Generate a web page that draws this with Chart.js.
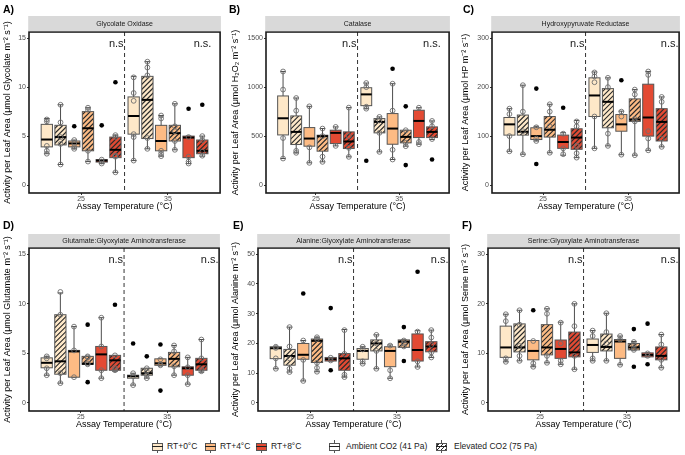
<!DOCTYPE html>
<html>
<head>
<meta charset="utf-8">
<script src="https://cdn.jsdelivr.net/npm/chart.js@4.4.1/dist/chart.umd.min.js"></script>
<style>
  body { margin: 0; width: 685px; height: 455px; background: #fff; position: relative; overflow: hidden;
         font-family: "Liberation Sans", Arial, sans-serif; }
  .panel { position: absolute; }
  .tag { position: absolute; font-weight: bold; font-size: 10.5px; color: #000; }
  .key { position: absolute; top: 440px; width: 11px; height: 13px; }
  .key .wh { position: absolute; left: 5px; top: 0; width: 1px; height: 13px; background: #555; }
  .key .bx { position: absolute; left: 0; top: 3px; width: 9px; height: 6px; border: 1px solid #555; }
  .key .md { position: absolute; left: 0; top: 6px; width: 11px; height: 1px; background: #222; }
  .lt { position: absolute; top: 440px; font-size: 8.5px; line-height: 13px; color: #1a1a1a; white-space: nowrap; }
</style>
</head>
<body>
<div id="legend"></div>
<script>
// groups (order of boxes inside each temperature)
const temps = ['25', '35'];
const rtLevels = ['RT+0°C', 'RT+4°C', 'RT+8°C'];
const co2Levels = ['Ambient CO2 (41 Pa)', 'Elevated CO2 (75 Pa)'];

// each box: [lower whisker, Q1, median, Q3, upper whisker]
// order: 25°C (RT0 amb, RT0 elev, RT4 amb, RT4 elev, RT8 amb, RT8 elev), then 35°C same order

// A) Glycolate Oxidase
const goBox = [[3.2, 3.9, 4.65, 6.2, 6.8], [2.1, 4.1, 4.9, 6.1, 8.2], [3.7, 3.9, 4.25, 4.5, 4.6],
  [2.4, 3.5, 5.8, 7.5, 7.9], [2.2, 2.35, 2.5, 2.6, 2.6], [1.3, 2.8, 3.6, 4.9, 5.1],
  [2.5, 5.2, 7.05, 9.0, 11.1], [3.7, 4.75, 8.7, 11.1, 12.6], [2.95, 3.5, 4.5, 6.1, 7.1],
  [3.6, 4.5, 5.3, 6.1, 8.3], [2.2, 2.8, 4.85, 5.0, 5.0], [2.95, 3.2, 3.5, 4.6, 5.0]];
const goPts = [[6.7, 6.5, 4.0, 3.5, 3.2], [8.2, 6.4, 4.9, 4.2, 2.1], [4.6, 4.3, 3.9, 3.7], [7.9, 7.7, 3.5, 2.4],
  [2.6, 2.4, 2.2], [5.1, 4.9, 3.0, 2.9, 1.3], [11.0, 9.4, 8.6, 5.2, 4.9, 2.5], [12.6, 12.0, 11.2, 4.8, 3.7],
  [7.1, 6.8, 3.5, 3.2, 2.95], [8.3, 6.0, 5.5, 4.5, 3.6], [4.9, 2.9, 2.4, 2.2], [5.0, 4.6, 3.4, 3.0]];
const goOut = [[], [], [6.0], [], [6.1], [10.5], [], [], [], [], [7.8], [8.2]];

// B) Catalase
const catBox = [[271, 512, 682, 910, 1160], [329, 414, 543, 706, 889], [227, 397, 475, 587, 804],
  [237, 346, 499, 509, 577], [400, 424, 533, 560, 594], [288, 373, 445, 543, 791],
  [780, 811, 926, 994, 1042], [339, 533, 645, 679, 696], [261, 417, 577, 730, 1035],
  [397, 431, 492, 560, 560], [417, 485, 655, 764, 790], [465, 485, 543, 594, 655]];
const catPts = [[1160, 975, 480, 271], [889, 760, 350, 329], [804, 385, 227], [577, 500, 290, 237],
  [594, 400], [791, 500, 380, 288], [1042, 1000, 800, 780], [696, 660, 533, 339],
  [1035, 760, 360, 261], [560, 431, 397], [790, 440, 417], [655, 600, 470]];
const catOut = [[], [], [], [], [], [], [248], [], [1188], [804, 204], [], [261]];

// C) Hydroxypyruvate Reductase
const hprBox = [[69, 102, 124, 138, 156], [63, 102, 109, 143, 204], [90, 93, 100, 117, 120],
  [66, 98, 113, 140, 165], [61, 75, 88, 102, 107], [56, 73, 97, 115, 132],
  [75, 140, 183, 219, 231], [80, 117, 170, 197, 219], [62, 110, 124, 144, 151],
  [61, 130, 134, 176, 195], [71, 100, 138, 206, 232], [78, 90, 129, 156, 180]];
const hprPts = [[156, 145, 100, 69], [204, 150, 110, 63], [118, 95, 90], [165, 150, 120, 66],
  [105, 75, 63], [130, 120, 80, 65, 56], [230, 222, 210, 140, 75], [219, 200, 105, 80],
  [150, 140, 62], [195, 185, 135, 130, 61], [232, 225, 110, 95, 71], [180, 170, 95, 78]];
const hprOut = [[], [], [197, 43], [], [158], [], [], [], [214], [], [], []];

// D) Glutamate:Glyoxylate Aminotransferase
const ggatBox = [[2.8, 3.55, 4.05, 4.55, 4.7], [2.0, 2.9, 4.2, 8.9, 11.1], [2.6, 2.6, 5.2, 5.3, 7.7],
  [3.9, 3.9, 3.95, 4.7, 4.7], [2.5, 3.3, 4.9, 5.7, 8.6], [3.2, 3.3, 4.3, 4.8, 4.8],
  [1.8, 2.5, 2.7, 2.8, 3.0], [2.5, 2.8, 3.0, 3.5, 3.5], [3.8, 3.8, 4.0, 4.45, 4.45],
  [2.8, 3.65, 4.45, 5.1, 5.8], [1.9, 2.8, 3.5, 3.65, 4.6], [3.1, 3.3, 3.9, 4.5, 6.4]];
const ggatPts = [[4.7, 4.5, 3.5, 2.8], [11.2, 8.9, 3.0, 2.0], [7.7, 5.3, 2.6], [4.7, 4.6, 4.0, 3.9],
  [8.6, 5.7, 3.3, 2.5], [4.8, 3.5, 3.3], [3.0, 2.7, 1.8], [3.5, 3.2, 2.8, 2.5], [4.4, 3.9, 3.8],
  [5.8, 5.2, 3.7, 2.8], [4.6, 3.6, 2.8, 1.9], [6.4, 4.5, 3.4, 3.2]];
const ggatOut = [[], [], [], [7.9, 2.1], [], [9.9], [6.0], [4.7], [5.9, 1.25], [], [], []];

// E) Alanine:Glyoxylate Aminotransferase
const agatBox = [[11.5, 14.9, 18.4, 18.9, 18.9], [10.4, 12.7, 15.8, 18.0, 25.5], [7.4, 14.7, 16.2, 20.0, 21.0],
  [10.5, 13.6, 20.9, 21.5, 22.1], [14.1, 14.1, 14.7, 15.3, 15.3], [8.7, 11.0, 15.0, 16.6, 24.7],
  [13.2, 14.7, 17.5, 18.3, 18.9], [11.5, 17.5, 20.0, 21.2, 22.9], [8.3, 12.2, 17.5, 18.9, 19.5],
  [18.7, 18.7, 20.6, 21.2, 21.2], [12.1, 14.1, 17.8, 23.2, 24.3], [15.3, 17.2, 19.0, 20.6, 24.5]];
const agatPts = [[18.9, 18.5, 15, 11.5], [25.5, 19, 15, 11.5, 10.4], [21, 14.5, 7.4], [22.1, 21.5, 13.5, 11.8, 10.5],
  [15.2, 14.3], [24.5, 16.5, 9.5, 8.7], [18.9, 18, 14, 13.2], [22.9, 20, 17.5, 11.5], [19.3, 11, 8.3],
  [21, 20, 19], [24, 14, 12.1], [24.5, 22, 19.5, 17, 15.3]];
const agatOut = [[], [], [36.8], [], [31.9, 11.0], [], [], [], [], [25.5, 14.1], [44.1], []];

// F) Serine:Glyoxylate Aminotransferase
const sgatBox = [[8.3, 9.2, 11.2, 15.5, 17.9], [8.5, 10.3, 11.2, 15.95, 18.7], [7.3, 8.7, 10.5, 12.6, 12.6],
  [8.1, 9.7, 11.2, 15.8, 19.0], [7.8, 9.0, 10.9, 12.7, 16.3], [6.8, 9.3, 10.2, 14.3, 20.0],
  [8.5, 10.2, 11.7, 12.9, 14.6], [8.5, 10.5, 11.3, 13.9, 18.1], [7.7, 9.0, 12.4, 12.8, 13.5],
  [10.7, 10.7, 11.2, 12.0, 12.4], [9.3, 9.3, 9.7, 10.1, 10.1], [7.1, 8.7, 9.5, 11.3, 13.8]];
const sgatPts = [[17.9, 16.5, 9.0, 8.3], [18.7, 15.8, 11.5, 9.5, 8.5], [12.5, 8.0, 7.3], [19.0, 18.0, 9.5, 8.1],
  [16.2, 12.0, 8.5, 7.8], [20.0, 15.5, 9.5, 6.8], [14.6, 13.5, 9.0, 8.5], [18.1, 14.3, 12.0, 8.5],
  [13.5, 12.8, 7.7], [12.3, 11.8, 11.0, 10.7], [10.0, 9.5], [13.8, 11.8, 8.7, 7.1]];
const sgatOut = [[], [], [18.7], [], [], [], [], [], [], [14.9, 7.3], [16.0, 7.8], []];

const rtFill = ['#fee8c8', '#fdbb84', '#e34a33'];
const SPACING = 0.158, BOX_W = 0.13;

function xPos(i) {
  return Math.floor(i / 6) + 1 + ((i % 6) - 2.5) * SPACING;
}

const rows = [
  { top: 0, plotTop: 32, stripH: 16, plotBottom: 193, tagTop: 3 },
  { top: 220, plotTop: 248, stripH: 14, plotBottom: 411, tagTop: 219 }
];

const panels = [
  { tag: 'A)', tagX: 3, title: 'Glycolate Oxidase', unit: 'Glycolate', box: goBox, pts: goPts, out: goOut,
    yTop: 15, step: 5, row: 0, left: 0, plotLeft: 29, right: 224, nsX: 2.5 },
  { tag: 'B)', tagX: 229, title: 'Catalase', unit: 'H\u2082O\u2082', box: catBox, pts: catPts, out: catOut,
    yTop: 1500, step: 500, row: 0, left: 228, plotLeft: 266, right: 453, nsX: 2.5 },
  { tag: 'C)', tagX: 463, title: 'Hydroxypyruvate Reductase', unit: 'HP', box: hprBox, pts: hprPts, out: hprOut,
    yTop: 300, step: 100, row: 0, left: 458, plotLeft: 492, right: 683, nsX: 2.6 },
  { tag: 'D)', tagX: 3, title: 'Glutamate:Glyoxylate Aminotransferase', unit: 'Glutamate', box: ggatBox, pts: ggatPts, out: ggatOut,
    yTop: 15, step: 5, row: 1, left: 0, plotLeft: 29, right: 223, nsX: 2.6 },
  { tag: 'E)', tagX: 233, title: 'Alanine:Glyoxylate Aminotransferase', unit: 'Alanine', box: agatBox, pts: agatPts, out: agatOut,
    yTop: 50, step: 10, row: 1, left: 228, plotLeft: 258, right: 453, nsX: 2.6 },
  { tag: 'F)', tagX: 462, title: 'Serine:Glyoxylate Aminotransferase', unit: 'Serine', box: sgatBox, pts: sgatPts, out: sgatOut,
    yTop: 30, step: 10, row: 1, left: 458, plotLeft: 488, right: 683, nsX: 2.6 }
];

// draws the boxes/whiskers under the points, and the frame, strip and n.s. labels on top
function boxPlugin(p) {
  return {
    id: 'boxes',
    beforeDatasetsDraw(chart) {
      const { ctx, chartArea: a, scales: { x, y } } = chart;
      ctx.save();
      // dashed divider between temperatures
      const xd = x.getPixelForValue(1.5);
      ctx.strokeStyle = '#333';
      ctx.lineWidth = 1;
      ctx.setLineDash([4, 3]);
      ctx.beginPath();
      ctx.moveTo(xd, a.top);
      ctx.lineTo(xd, a.bottom);
      ctx.stroke();
      ctx.setLineDash([]);

      p.box.forEach((b, i) => {
        const c = xPos(i);
        const cx = x.getPixelForValue(c);
        const hw = x.getPixelForValue(c + BOX_W / 2) - cx;
        const [lo, q1, med, q3, hi] = b.map(v => y.getPixelForValue(v));
        const j = i % 6;
        // whiskers + caps
        ctx.strokeStyle = '#4d4d4d';
        ctx.lineWidth = 1;
        ctx.beginPath();
        ctx.moveTo(cx, lo); ctx.lineTo(cx, hi);
        ctx.moveTo(cx - hw / 2, lo); ctx.lineTo(cx + hw / 2, lo);
        ctx.moveTo(cx - hw / 2, hi); ctx.lineTo(cx + hw / 2, hi);
        ctx.stroke();
        // box
        ctx.fillStyle = rtFill[Math.floor(j / 2)];
        ctx.fillRect(cx - hw, q3, hw * 2, q1 - q3);
        if (j % 2 === 1) {
          ctx.save();
          ctx.beginPath();
          ctx.rect(cx - hw, q3, hw * 2, q1 - q3);
          ctx.clip();
          ctx.strokeStyle = '#2b2b2b';
          ctx.lineWidth = 1.2;
          ctx.beginPath();
          const h = q1 - q3;
          for (let sx = cx - hw - h - 2; sx < cx + hw + 2; sx += 5) {
            ctx.moveTo(sx, q1);
            ctx.lineTo(sx + h, q3);
          }
          ctx.stroke();
          ctx.restore();
        }
        ctx.strokeStyle = '#555';
        ctx.lineWidth = 1;
        ctx.strokeRect(cx - hw, q3, hw * 2, q1 - q3);
        // median
        ctx.strokeStyle = '#000';
        ctx.lineWidth = 2;
        ctx.beginPath();
        ctx.moveTo(cx - hw, med); ctx.lineTo(cx + hw, med);
        ctx.stroke();
      });
      ctx.restore();
    },
    afterDraw(chart) {
      const { ctx, chartArea: a, scales: { x, y } } = chart;
      const r = rows[p.row];
      ctx.save();
      // panel frame
      ctx.strokeStyle = '#1a1a1a';
      ctx.lineWidth = 1.6;
      ctx.strokeRect(a.left, a.top, a.right - a.left, a.bottom - a.top);
      // facet strip
      ctx.fillStyle = '#d9d9d9';
      ctx.fillRect(a.left - 0.8, a.top - r.stripH, a.right - a.left + 1.6, r.stripH - 0.8);
      ctx.fillStyle = '#1a1a1a';
      ctx.font = '7px "Liberation Sans", Arial, sans-serif';
      ctx.textAlign = 'center';
      ctx.textBaseline = 'middle';
      ctx.fillText(p.title, (a.left + a.right) / 2, a.top - r.stripH / 2);
      // n.s. labels
      ctx.font = '11px "Liberation Sans", Arial, sans-serif';
      ctx.textAlign = 'right';
      const ny = y.getPixelForValue(p.yTop * 0.96);
      ctx.fillText('n.s', x.getPixelForValue(1.5) - 1, ny);
      ctx.fillText('n.s.', Math.min(x.getPixelForValue(p.nsX), a.right - 0.5), ny);
      ctx.restore();
    }
  };
}

function flatten(arr) {
  const out = [];
  arr.forEach((vals, i) => vals.forEach(v => out.push({ x: xPos(i), y: v })));
  return out;
}

panels.forEach(p => {
  const r = rows[p.row];
  const xAxisH = 20;
  const div = document.createElement('div');
  div.className = 'panel';
  div.style.left = p.left + 'px';
  div.style.top = r.top + 'px';
  div.style.width = (p.right + 1 - p.left) + 'px';
  div.style.height = (r.plotBottom + xAxisH - r.top) + 'px';
  const canvas = document.createElement('canvas');
  div.appendChild(canvas);
  document.body.appendChild(div);

  const tag = document.createElement('div');
  tag.className = 'tag';
  tag.textContent = p.tag;
  tag.style.left = p.tagX + 'px';
  tag.style.top = r.tagTop + 'px';
  document.body.appendChild(tag);

  const yTicks = [];
  for (let v = 0; v <= p.yTop; v += p.step) yTicks.push(v);

  new Chart(canvas, {
    type: 'scatter',
    data: {
      datasets: [{
        data: flatten(p.pts),
        pointRadius: 2.4,
        pointBorderWidth: 0.9,
        pointBorderColor: '#6e6e6e',
        pointBackgroundColor: 'rgba(0,0,0,0)'
      }, {
        data: flatten(p.out),
        pointRadius: 2.3,
        pointBorderWidth: 0,
        pointBackgroundColor: '#000'
      }]
    },
    options: {
      responsive: true,
      maintainAspectRatio: false,
      animation: false,
      layout: { padding: { top: r.plotTop - r.top, right: 1, left: 0, bottom: 0 } },
      plugins: { legend: { display: false }, tooltip: { enabled: false } },
      scales: {
        x: {
          type: 'linear',
          min: 0.4,
          max: 2.6,
          afterBuildTicks: s => { s.ticks = [{ value: 1 }, { value: 2 }]; },
          afterFit: s => { s.height = xAxisH; },
          ticks: {
            callback: v => temps[Math.round(v) - 1],
            font: { size: 7 },
            color: '#4d4d4d',
            padding: 0,
            maxRotation: 0
          },
          grid: { drawOnChartArea: false, drawTicks: true, tickLength: 2, color: '#333' },
          border: { display: false },
          title: {
            display: true,
            text: 'Assay Temperature (°C)',
            font: { size: 9 },
            color: '#000',
            padding: { top: 0, bottom: 1 }
          }
        },
        y: {
          min: -0.054 * p.yTop,
          max: 1.042 * p.yTop,
          afterBuildTicks: s => { s.ticks = yTicks.map(v => ({ value: v })); },
          afterFit: s => { s.width = p.plotLeft - p.left; },
          ticks: { font: { size: 7 }, color: '#4d4d4d', padding: 1, callback: v => String(v) },
          grid: { drawOnChartArea: false, drawTicks: true, tickLength: 2, color: '#333' },
          border: { display: false },
          title: {
            display: true,
            text: 'Activity per Leaf Area (\u03bcmol ' + p.unit + ' m\u207b\u00b2 s\u207b\u00b9)',
            font: { size: 9 },
            color: '#000',
            padding: { top: 2, bottom: 0 }
          }
        }
      }
    },
    plugins: [boxPlugin(p)]
  });
});

// shared legend
const legend = document.getElementById('legend');
const keyX = [152, 205, 256, 329, 436];
const textX = [167, 220, 271, 346, 454];
const legendItems = rtLevels.map((t, k) => ({ label: t, fill: rtFill[k], hatch: false }))
  .concat(co2Levels.map((t, k) => ({ label: t, fill: '#fff', hatch: k === 1 })));
legendItems.forEach((it, k) => {
  const key = document.createElement('div');
  key.className = 'key';
  key.style.left = keyX[k] + 'px';
  const bg = it.hatch
    ? 'repeating-linear-gradient(-45deg, #2b2b2b 0 1px, transparent 1px 3px), #fff'
    : it.fill;
  key.innerHTML = '<span class="wh"></span><span class="bx" style="background:' + bg + '"></span><span class="md"></span>';
  legend.appendChild(key);
  const t = document.createElement('div');
  t.className = 'lt';
  t.style.left = textX[k] + 'px';
  t.textContent = it.label;
  legend.appendChild(t);
});
</script>
</body>
</html>
